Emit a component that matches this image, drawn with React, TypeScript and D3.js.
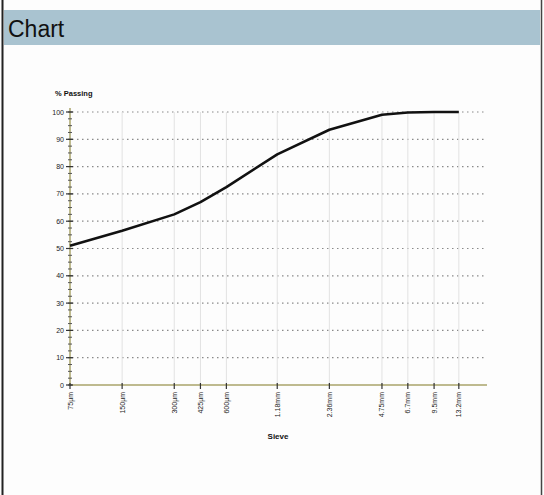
import React from "react";
import * as d3 from "d3";

const sieveLabels = ["75µm", "150µm", "300µm", "425µm", "600µm", "1.18mm", "2.36mm", "4.75mm", "6.7mm", "9.5mm", "13.2mm"];
const sieveSizes = [75, 150, 300, 425, 600, 1180, 2360, 4750, 6700, 9500, 13200];
const passing = [51, 56.5, 62.5, 67, 72.5, 84.5, 93.5, 99, 99.8, 100, 100];
const yTicks = [0, 10, 20, 30, 40, 50, 60, 70, 80, 90, 100];

export default function App() {
  const W = 544, H = 495;
  const x = d3.scaleLog().domain([75, 19200]).range([70, 487]);
  const y = d3.scaleLinear().domain([0, 100]).range([385, 112]);
  const line = d3.line<number>().x((_, i) => x(sieveSizes[i])).y((d) => y(d));
  const minor = d3.range(0, 100.1, 2.5);
  const axisCol = "#a9a36a";
  return (
    <svg width={W} height={H} style={{ position: "absolute", left: 0, top: 0 }} fontFamily="Arial, Liberation Sans, sans-serif">
      <rect x={0} y={0} width={W} height={H} fill="#fdfdfd" />
      <rect x={4} y={10} width={536} height={35} fill="#a9c3d0" />
      <line x1={2.5} y1={0} x2={2.5} y2={H} stroke="#222" strokeWidth={2} />
      <line x1={541.5} y1={0} x2={541.5} y2={H} stroke="#444" strokeWidth={1.5} />
      <text x={8} y={37} fontSize={23} fill="#111">Chart</text>
      {/* gridlines */}
      {yTicks.filter((t) => t > 0).map((t) => (
        <line key={"g" + t} x1={72} x2={487} y1={y(t)} y2={y(t)} stroke="#8a8a8a" strokeWidth={1.2} strokeDasharray="1.5,3.5" />
      ))}
      {sieveSizes.slice(1).map((s) => (
        <line key={"v" + s} x1={x(s)} x2={x(s)} y1={112} y2={385} stroke="#e2e2e2" strokeWidth={1} />
      ))}
      {/* axes */}
      <line x1={70} x2={70} y1={108} y2={385} stroke={axisCol} strokeWidth={1.5} />
      <line x1={70} x2={487} y1={385} y2={385} stroke={axisCol} strokeWidth={1.5} />
      {minor.map((m) => (
        <line key={"m" + m} x1={68} x2={72} y1={y(m)} y2={y(m)} stroke="#555" strokeWidth={1} />
      ))}
      {yTicks.map((t) => (
        <g key={"yt" + t}>
          <line x1={66} x2={73} y1={y(t)} y2={y(t)} stroke="#333" strokeWidth={1.2} />
          <text x={64} y={y(t) + 2.5} fontSize={7} textAnchor="end" fill="#222">{t}</text>
        </g>
      ))}
      {sieveSizes.map((s, i) => (
        <g key={"xt" + s}>
          <line x1={x(s)} x2={x(s)} y1={383} y2={389} stroke="#333" strokeWidth={1.2} />
          <text transform={`translate(${x(s) + 2.5},${392}) rotate(-90)`} fontSize={7} textAnchor="end" fill="#222">{sieveLabels[i]}</text>
        </g>
      ))}
      <text x={55} y={96} fontSize={7.5} fontWeight="bold" fill="#111">% Passing</text>
      <text x={278} y={439} fontSize={8} fontWeight="bold" textAnchor="middle" fill="#111">Sieve</text>
      <path d={line(passing) || ""} fill="none" stroke="#111" strokeWidth={2.6} strokeLinejoin="round" />
    </svg>
  );
}
